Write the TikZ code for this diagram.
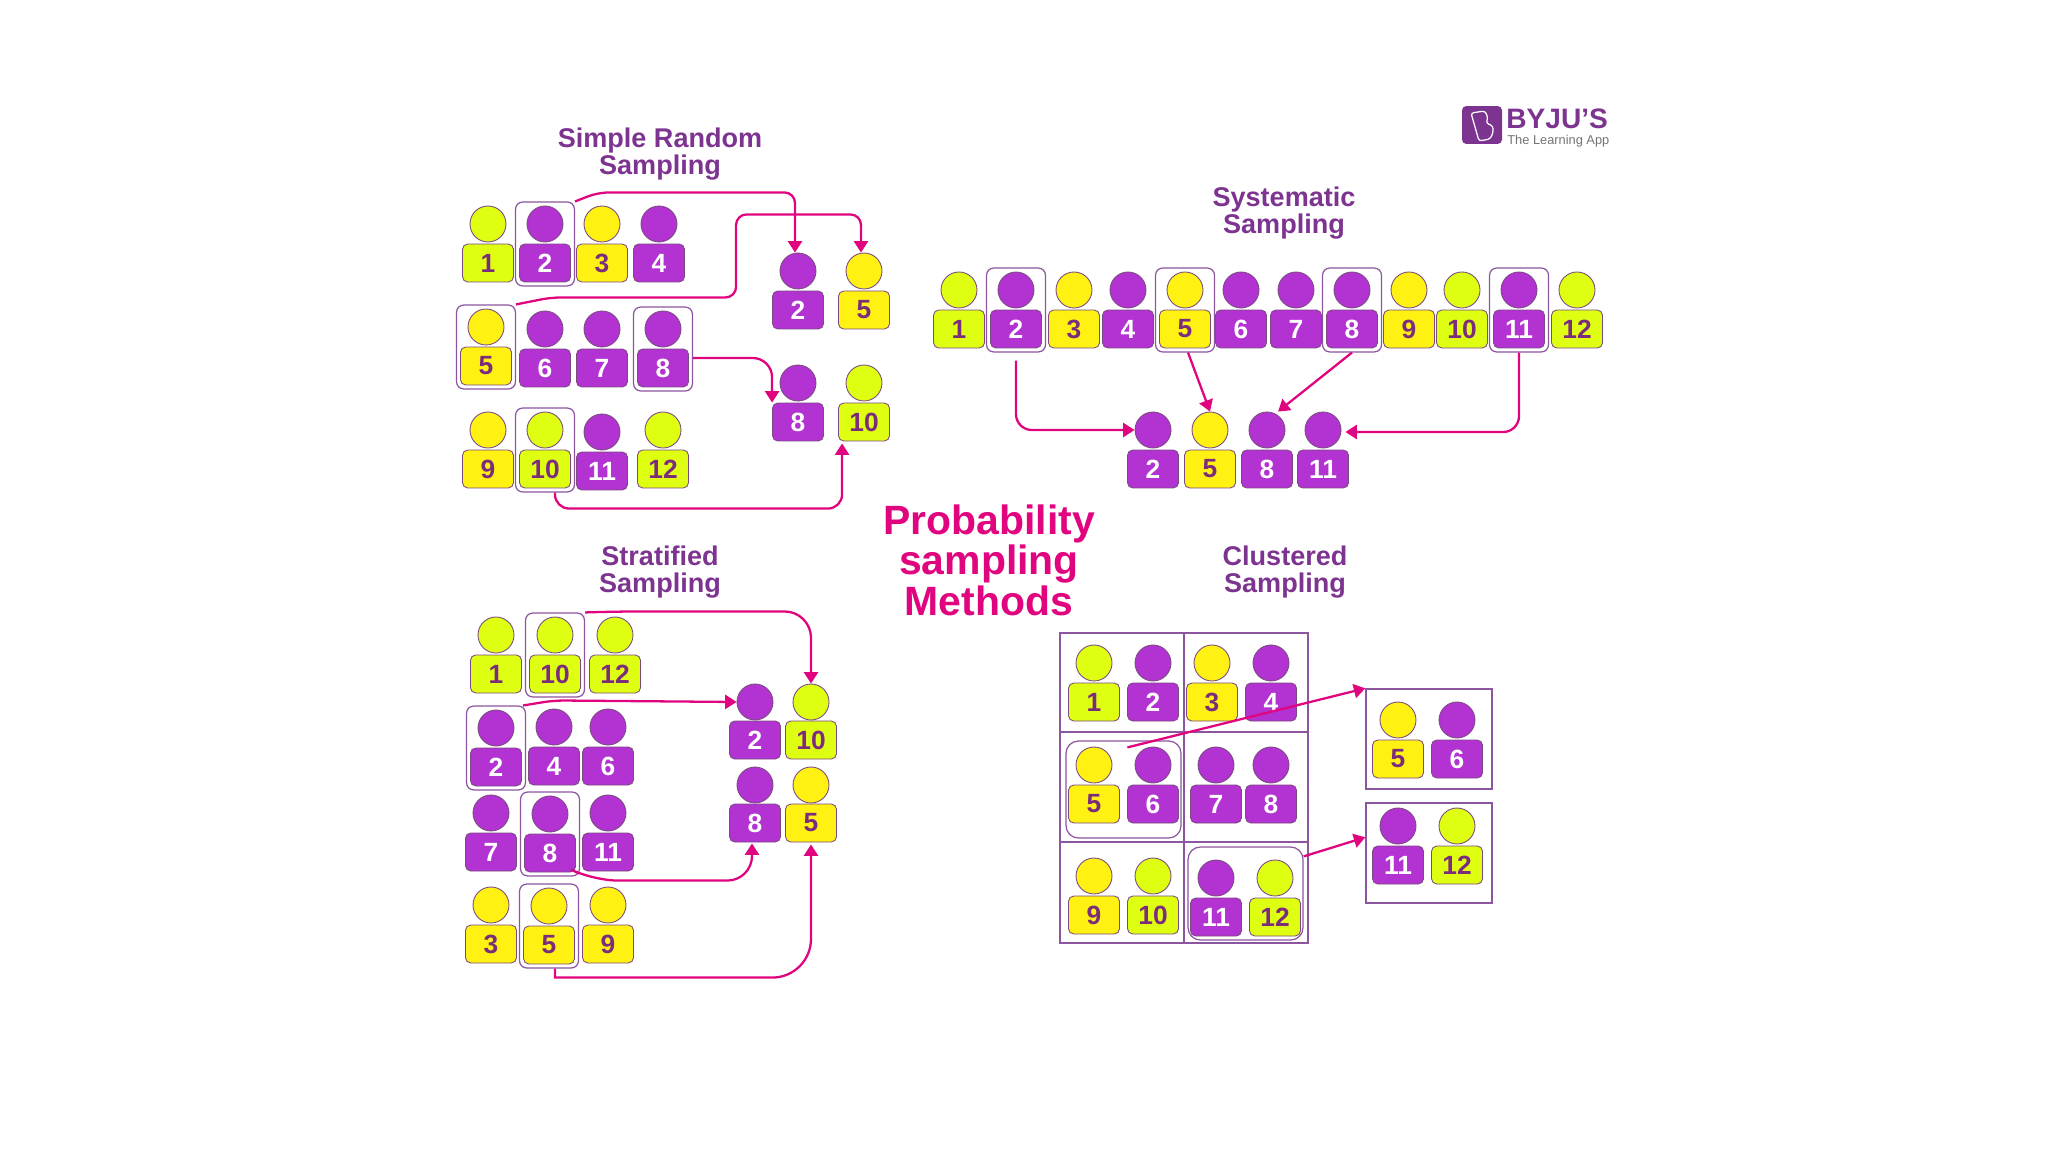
\documentclass[tikz,border=0pt]{standalone}
\usepackage{fontspec}
\setmainfont{Liberation Sans}
\usetikzlibrary{arrows.meta,calc,fit,positioning}
\definecolor{headlime}{HTML}{DFFF12}
\definecolor{headyel}{HTML}{FFF212}
\definecolor{headpur}{HTML}{B232D2}
\definecolor{edgepur}{HTML}{7A4A80}
\definecolor{numdark}{HTML}{7B2D7B}
\definecolor{titlepur}{HTML}{7D3390}
\definecolor{linkpink}{HTML}{E0057F}
\definecolor{framepur}{HTML}{8C55A0}

\begin{document}
\begin{tikzpicture}[x=.02cm,y=-.02cm,
  body/.style={draw=edgepur,line width=.5pt,rounded corners=3pt,minimum width=1.02cm,minimum height=.76cm,inner sep=0pt,font=\fontsize{15}{15}\selectfont\bfseries},
  head/.style={draw=edgepur,line width=.5pt,circle,minimum size=.72cm,inner sep=0pt},
  lime/.style={fill=headlime,text=numdark},
  yel/.style={fill=headyel,text=numdark},
  pur/.style={fill=headpur,text=white},
  pick/.style={draw=framepur,line width=.7pt,rounded corners=4pt,inner sep=.07cm},
  title/.style={text=titlepur,align=center,font=\fontsize{15.4}{15.3}\selectfont\bfseries},
  link/.style={draw=linkpink,line width=1.3pt,-{Triangle[length=6.5pt,width=8pt]}},
  clbox/.style={draw=framepur,line width=.8pt,minimum width=2.52cm,minimum height=2cm,inner sep=0pt}]
\useasboundingbox (0,0) rectangle (2048,1152);

% titles
\node[title] (srtitle) at (660,154) {Simple Random\\Sampling};
\node[title] (sytitle) at (1284,213) {Systematic\\Sampling};
\node[title] (sttitle) at (660,572) {Stratified\\Sampling};
\node[title] (cltitle) at (1285,572) {Clustered\\Sampling};
\node[text=linkpink,align=center,font=\fontsize{23.3}{23}\selectfont\bfseries] (maintitle) at (989,560) {Probability\\sampling\\Methods};

% logo
\node[fill=titlepur,rounded corners=2.5pt,minimum width=.8cm,minimum height=.76cm] (logo) at (1482,125) {};
\draw[white,line width=.7pt,rounded corners=1.5pt] ($(logo)+(-11,-12)$) -- ++(14,-2) -- ++(3,7) -- ++(-2,5) -- ++(7,3) -- ++(0,7) -- ++(-3,6) -- ++(-11,2) -- cycle;
\node[anchor=west,inner sep=0pt,text=titlepur,font=\fontsize{16}{16}\selectfont\bfseries] (byjus) at (1506,119) {BYJU'S};
\node[anchor=west,inner sep=0pt,text=black!55,font=\fontsize{7.3}{8}\selectfont] (learning) at (1507,141) {The Learning App};

% simple random
\foreach \n/\x/\y/\col in {1/488/263/lime,2/545/263/pur,3/602/263/yel,4/659/263/pur,
  5/486/366/yel,6/545/368/pur,7/602/368/pur,8/663/368/pur,
  9/488/469/yel,10/545/469/lime,11/602/471/pur,12/663/469/lime}{
  \node[body,\col] (sr\n) at (\x,\y) {\n};
  \node[head,\col] (sr\n h) at (\x,\y-39) {};
}
\foreach \n/\x/\y/\col in {2/798/310/pur,5/864/310/yel,8/798/422/pur,10/864/422/lime}{
  \node[body,\col] (srs\n) at (\x,\y) {\n};
  \node[head,\col] (srs\n h) at (\x,\y-39) {};
}
\foreach \n in {2,5,8,10}{
  \node[pick,fit=(sr\n)(sr\n h)] (srf\n) {};
}
\draw[link,rounded corners=6pt] (srf2.north east) -- ++(23,-9) -| ($(srs2h.north)+(-3,0)$);
\draw[link,rounded corners=6pt] (srf5.north east) -- ++(35,-7) -- ++(185,0) -- ++(0,-83) -| ($(srs5h.north)+(-3,0)$);
\draw[link,rounded corners=11pt] ($(srf8.east)+(0,9)$) -| (srs8.north west);
\draw[link,rounded corners=8pt] ($(srf10.south)+(10,0)$) -- ++(0,16) -| ($(srs10.south west)+(4,2)$);

% systematic
\foreach \n/\x/\col in {1/959/lime,2/1016/pur,3/1074/yel,4/1128/pur,5/1185/yel,6/1241/pur,
  7/1296/pur,8/1352/pur,9/1409/yel,10/1462/lime,11/1519/pur,12/1577/lime}{
  \node[body,\col] (sy\n) at (\x,329) {\n};
  \node[head,\col] (sy\n h) at (\x,290) {};
}
\foreach \n/\x/\col in {2/1153/pur,5/1210/yel,8/1267/pur,11/1323/pur}{
  \node[body,\col] (sys\n) at (\x,469) {\n};
  \node[head,\col] (sys\n h) at (\x,430) {};
}
\foreach \n in {2,5,8,11}{
  \node[pick,fit=(sy\n)(sy\n h)] (syf\n) {};
}
\draw[link,rounded corners=9pt] ($(syf2.south)+(0,8)$) |- (sys2h.west);
\draw[link] ($(syf5.south)+(3,0)$) -- (sys5h.north);
\draw[link] (syf8.south) -- ($(sys8h.north)+(11,0)$);
\draw[link,rounded corners=9pt] (syf11.south) |- ($(sys11h.east)+(4,2)$);

% stratified
\foreach \n/\x/\y/\col in {1/496/674/lime,10/555/674/lime,12/615/674/lime,
  2/496/767/pur,4/554/766/pur,6/608/766/pur,
  7/491/852/pur,8/550/853/pur,11/608/852/pur,
  3/491/944/yel,5/549/945/yel,9/608/944/yel}{
  \node[body,\col] (st\n) at (\x,\y) {\n};
  \node[head,\col] (st\n h) at (\x,\y-39) {};
}
\foreach \n/\x/\y/\col in {2/755/740/pur,10/811/740/lime,8/755/823/pur,5/811/823/yel}{
  \node[body,\col] (sts\n) at (\x,\y) {\n};
  \node[head,\col] (sts\n h) at (\x,\y-38) {};
}
\foreach \n in {10,2,8,5}{
  \node[pick,fit=(st\n)(st\n h)] (stf\n) {};
}
\draw[link,rounded corners=15pt] (stf10.north east) -- ++(31,-1) -| (sts10h.north);
\draw[link,rounded corners=6pt] ($(stf2.north east)+(-3,0)$) -- ++(31,-5) -- (sts2h.west);
\draw[link,rounded corners=14pt] ($(stf8.south east)+(-1,-3)$) -- ++(14,7) -| ($(sts8.south)+(-3,1)$);
\draw[link] ($(stf5.south)+(6,0)$) [sharp corners] -- ++(0,9) [rounded corners=22pt] -| ($(sts5.south)+(0,2)$);

% clustered
\draw[framepur,line width=.9pt] (1060,633) rectangle (1308,943);
\draw[framepur,line width=.9pt] (1184,633) -- (1184,943);
\draw[framepur,line width=.9pt] (1060,732) -- (1308,732);
\draw[framepur,line width=.9pt] (1060,842) -- (1308,842);
\foreach \n/\x/\y/\col in {1/1094/702/lime,2/1153/702/pur,3/1212/702/yel,4/1271/702/pur,
  5/1094/804/yel,6/1153/804/pur,7/1216/804/pur,8/1271/804/pur,
  9/1094/915/yel,10/1153/915/lime,11/1216/917/pur,12/1275/917/lime}{
  \node[body,\col] (cl\n) at (\x,\y) {\n};
  \node[head,\col] (cl\n h) at (\x,\y-39) {};
}
\node[clbox] (clA) at (1429,739) {};
\node[clbox] (clB) at (1429,853) {};
\foreach \n/\x/\y/\col in {5/1398/759/yel,6/1457/759/pur,11/1398/865/pur,12/1457/865/lime}{
  \node[body,\col] (cls\n) at (\x,\y) {\n};
  \node[head,\col] (cls\n h) at (\x,\y-39) {};
}
\node[pick,rounded corners=7pt,inner sep=0pt,minimum width=2.3cm,minimum height=1.94cm] (clf56) at (1123.5,789.5) {};
\node[pick,rounded corners=7pt,inner sep=0pt,minimum width=2.3cm,minimum height=1.86cm] (clf1112) at (1245.5,893.5) {};
\draw[link] ($(clf56.north west)+(62,7)$) -- (clA.north west);
\draw[link] ($(clf1112.north east)+(0,10)$) -- ($(clB.north west)+(0,35)$);
\end{tikzpicture}
\end{document}
